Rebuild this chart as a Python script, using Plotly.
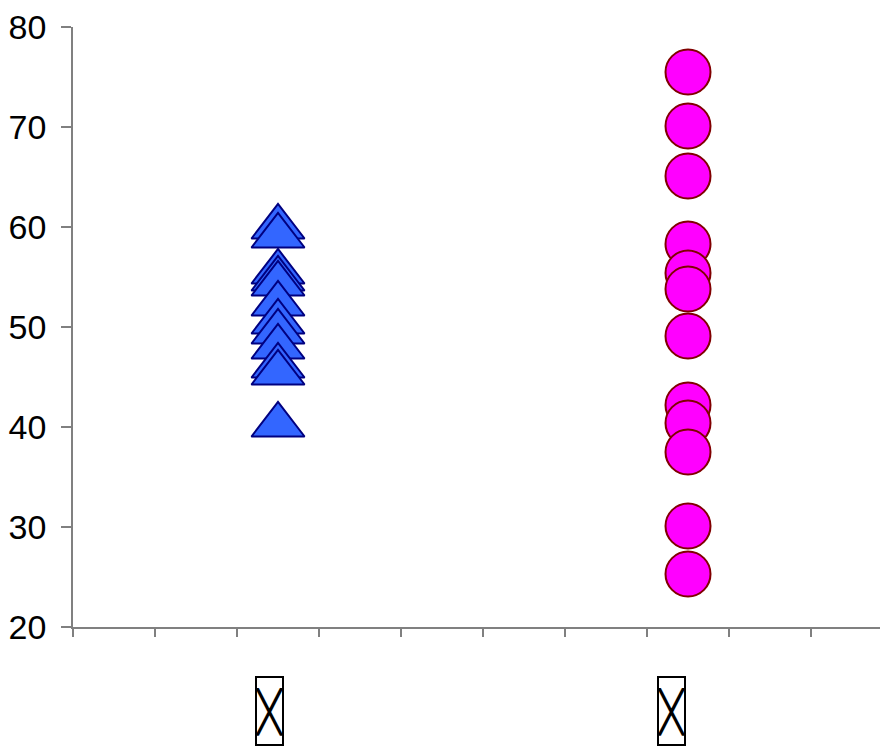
import plotly.graph_objects as go

# ----------------------------------------------------------------------------------------------------------------------------------
# Data

group_positions = [2.5, 7.5]
group_labels = ["╳", "╳"]
label_positions = [2.4, 7.3]

triangle_values = [60.0, 59.1, 55.5, 54.8, 54.3, 52.3, 50.5, 49.5, 48.0, 46.1, 45.4, 40.2]
circle_values = [75.5, 70.1, 65.1, 58.3, 55.4, 53.8, 49.1, 42.2, 40.4, 37.5, 30.1, 25.3]

y_ticks = [20, 30, 40, 50, 60, 70, 80]

# ----------------------------------------------------------------------------------------------------------------------------------
# Plot
# the page body adds 8px on the top and left, so the figure is 8px smaller

fig = go.Figure()

fig.add_trace(go.Scatter(
    x=[group_positions[0]] * len(triangle_values),
    y=triangle_values,
    mode="markers",
    marker=dict(symbol="triangle-up", size=46, color="#3366FF",
                line=dict(color="#000080", width=2)),
    showlegend=False,
))

fig.add_trace(go.Scatter(
    x=[group_positions[1]] * len(circle_values),
    y=circle_values,
    mode="markers",
    marker=dict(symbol="circle", size=45, color="#FF00FF",
                line=dict(color="#800000", width=2)),
    showlegend=False,
))

for pos, lab in zip(label_positions, group_labels):
    fig.add_annotation(
        x=pos, y=-0.14, xref="x", yref="paper",
        text=lab, showarrow=False,
        font=dict(family="DejaVu Sans Mono", size=41, color="black"),
        width=25, height=66,
        bordercolor="black", borderwidth=2, borderpad=0,
        xanchor="center", yanchor="middle",
    )

fig.update_xaxes(
    range=[0, 815 / 82], dtick=1, tick0=0,
    showticklabels=False, showgrid=False, zeroline=False,
    showline=True, linecolor="#808080", linewidth=1.5,
    ticks="outside", ticklen=8, tickcolor="#808080", tickwidth=1.5,
    automargin=False,
)

fig.update_yaxes(
    range=[20, 80], tickvals=y_ticks,
    showgrid=False, zeroline=False,
    showline=True, linecolor="#808080", linewidth=1.5,
    ticks="outside", ticklen=10, tickcolor="#808080", tickwidth=1.5,
    ticklabelstandoff=8, ticklabeloverflow="allow", automargin=False,
    tickfont=dict(family="Liberation Sans, Arial", size=34, color="black"),
)

fig.update_layout(
    width=880, height=742,
    margin=dict(l=65, r=0, t=19, b=123),
    plot_bgcolor="white", paper_bgcolor="white",
)

fig.write_html("out.html")
